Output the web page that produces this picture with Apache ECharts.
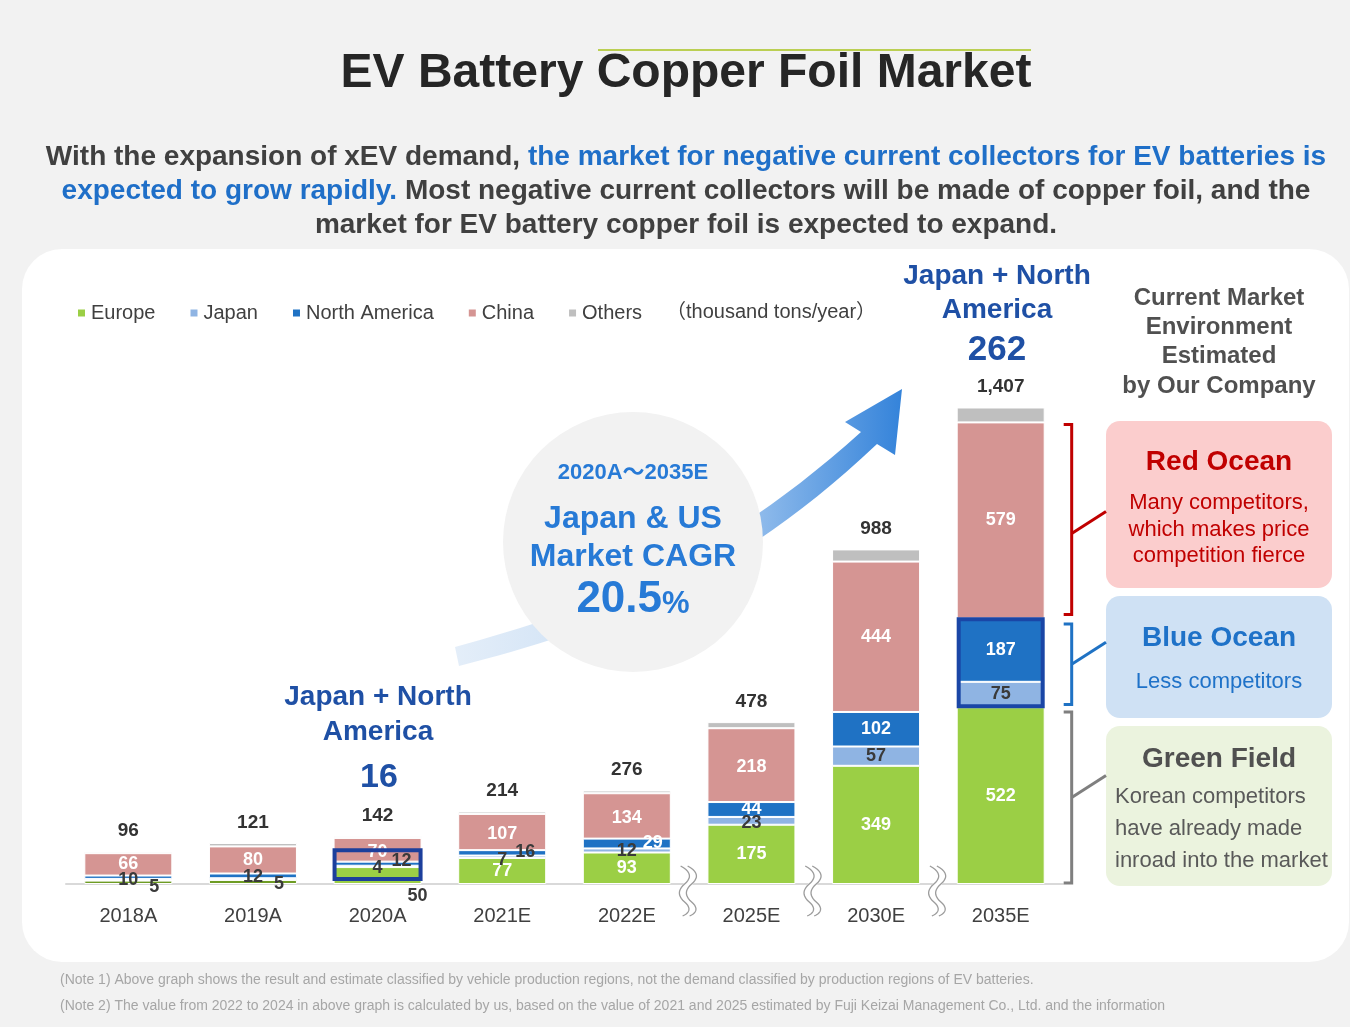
<!DOCTYPE html>
<html>
<head>
<meta charset="utf-8">
<script src="https://cdn.jsdelivr.net/npm/echarts@6/dist/echarts.min.js"></script>
<style>
html,body{margin:0;padding:0;background:#F2F2F2;}
#main{width:1350px;height:1027px;}
</style>
</head>
<body>
<div id="main"></div>
<script>
// ---------- data ----------
const categories = ['2018A','2019A','2020A','2021E','2022E','2025E','2030E','2035E'];
const europe       = [10, 12, 50, 77, 93, 175, 349, 522];
const japan        = [5, 5, 4, 7, 12, 23, 57, 75];
const northAmerica = [10, 14, 12, 16, 29, 44, 102, 187];
const china        = [66, 80, 70, 107, 134, 218, 444, 579];
const others       = [5, 10, 6, 7, 8, 18, 36, 44];
const totals       = [96, 121, 142, 214, 276, 478, 988, 1407];
const jpNaStart = 16, jpNaEnd = 262, cagr = '20.5';

// ---------- styles ----------
const FONT = "'Liberation Sans', Arial, 'Noto Sans CJK JP', sans-serif";
const DARK = '#3a3a3a';
const colors = {europe:'#9BCF45', europeOld:'#6E9C24', japan:'#8FB4E3', na:'#1F72C4', china:'#D59593', others:'#BFBFBF'};

// per-item label tweaks (index -> settings)
const tweaks = {
  europe: {0:{offset:[0,-2],color:DARK},1:{offset:[0,-5],color:DARK},2:{offset:[40,20],color:DARK}},
  japan:  {0:{offset:[26,7]},1:{offset:[26,5]},2:{offset:[0,2]},3:{offset:[0,3]},4:{offset:[0,1]},5:{offset:[0,2]}},
  na:     {0:{show:false},1:{show:false},2:{offset:[24,-3],color:DARK},3:{offset:[23,-1],color:DARK},4:{offset:[26,0]}},
  china:  {2:{offset:[0,2]},3:{offset:[0,2]},4:{offset:[0,2]},5:{offset:[0,2]}}
};

function build(values, key){
  return values.map((v,i)=>{
    const item = {value:v};
    const t = (tweaks[key]||{})[i];
    if (t) item.label = Object.assign({}, t);
    if (key==='europe' && i<2) item.itemStyle = {color: colors.europeOld};
    return item;
  });
}
function series(name, key, values, color, labelColor){
  return {
    name, type:'bar', stack:'total', barWidth:88, z:5,
    itemStyle:{color, borderColor:'#fff', borderWidth:1},
    label:{show:true, position:'inside', color:labelColor, fontFamily:FONT, fontWeight:'bold', fontSize:18},
    data: build(values, key)
  };
}

const chart = echarts.init(document.getElementById('main'));
chart.setOption({
  backgroundColor:'#F2F2F2',
  animation:false,
  grid:{left:66, right:287, top:376, bottom:143},
  legend:{
    left:76, top:303, padding:0, itemWidth:9, itemHeight:9, itemGap:33, icon:'rect',
    textStyle:{fontFamily:FONT, fontSize:20, color:'#404040'},
    data:['Europe','Japan','North America','China','Others']
  },
  xAxis:{
    type:'category', data:categories,
    axisLine:{lineStyle:{color:'#D9D9D9', width:2}},
    axisTick:{show:false},
    axisLabel:{fontFamily:FONT, fontSize:20, color:'#404040', margin:22}
  },
  yAxis:{type:'value', min:0, max:1500, show:false, splitLine:{show:false}},
  series:[
    series('Europe','europe',europe,colors.europe,'#fff'),
    series('Japan','japan',japan,colors.japan,DARK),
    series('North America','na',northAmerica,colors.na,'#fff'),
    series('China','china',china,colors.china,'#fff'),
    {
      name:'Others', type:'bar', stack:'total', barWidth:88, z:5,
      itemStyle:{color:colors.others, borderColor:'#fff', borderWidth:1},
      label:{show:true, position:'top', distance:11, color:'#333', fontFamily:FONT, fontWeight:'bold', fontSize:19,
        formatter:p=>totals[p.dataIndex].toLocaleString('en-US')},
      data:others
    }
  ]
});

// ---------- annotations ----------
const px = (i,v)=>chart.convertToPixel({gridIndex:0},[i,v]);
const g = [];
function text(x,y,t,size,color,opts){
  opts = opts || {};
  g.push({type:'text', z:30, style:{x, y, text:t, fontFamily:FONT, fontSize:size, fill:color,
    fontWeight:(opts.bold===false)?'normal':'bold', align:opts.align||'center', verticalAlign:'middle'}});
}
// sample a cubic bezier into points
function cubic(p0,p1,p2,p3,n){
  const pts=[];
  for(let k=0;k<=n;k++){
    const t=k/n, u=1-t;
    pts.push([u*u*u*p0[0]+3*u*u*t*p1[0]+3*u*t*t*p2[0]+t*t*t*p3[0],
              u*u*u*p0[1]+3*u*u*t*p1[1]+3*u*t*t*p2[1]+t*t*t*p3[1]]);
  }
  return pts;
}
// white panel
g.push({type:'rect', z:-5, shape:{x:22,y:249,width:1327,height:713,r:40}, style:{fill:'#fff'}});
// title
text(686,74,'EV Battery Copper Foil Market',48,'#262626');
g.push({type:'line', z:30, shape:{x1:598,y1:50,x2:1031,y2:50}, style:{stroke:'#A8C31E', lineWidth:1.5}});
// subtitle
g.push({type:'text', z:30, style:{x:686, y:191, align:'center', verticalAlign:'middle', fontFamily:FONT,
  text:'{g|With the expansion of xEV demand, }{b|the market for negative current collectors for EV batteries is}\n{b|expected to grow rapidly.}{g| Most negative current collectors will be made of copper foil, and the}\n{g|market for EV battery copper foil is expected to expand.}',
  rich:{g:{fontFamily:FONT,fontSize:28,fontWeight:'bold',fill:'#404040',lineHeight:34},
        b:{fontFamily:FONT,fontSize:28,fontWeight:'bold',fill:'#1F6FC8',lineHeight:34}}}});
// unit
text(666,312,'（thousand tons/year）',20,'#404040',{bold:false,align:'left'});

// arrow
const upper = cubic([455,647],[580,612],[705,572],[861,432],30);
const lower = cubic([877,444],[725,588],[590,632],[459,666],30);
const arrowPts = upper.concat([[845,422],[902,389],[895,455]], lower);
g.push({type:'polygon', z:8, shape:{points:arrowPts},
  style:{fill:{type:'linear', x:0, y:0, x2:1, y2:0, colorStops:[{offset:0,color:'#E4EEF9'},{offset:0.5,color:'#C3DAF3'},{offset:0.7,color:'#89B7EA'},{offset:1,color:'#3483DA'}]}}});
// bubble
g.push({type:'circle', z:9, shape:{cx:633,cy:542,r:130}, style:{fill:'#F2F2F2'}});
const BB='#277AD6';
text(633,473,'2020A～2035E',22,BB);
text(633,519,'Japan & US',32,BB);
text(633,557,'Market CAGR',32,BB);
g.push({type:'text', z:30, style:{x:633,y:600,align:'center',verticalAlign:'middle',text:'{n|'+cagr+'}{p|%}',
  rich:{n:{fontFamily:FONT,fontSize:44,fontWeight:'bold',fill:BB},p:{fontFamily:FONT,fontSize:31,fontWeight:'bold',fill:BB,padding:[8,0,0,0]}}}});

// Japan + North America callouts
const NB='#1F50A5';
text(378,697,'Japan + North',28,NB);
text(378,732,'America',28,NB);
text(379,778,String(jpNaStart),34,NB);
text(997,276,'Japan + North',28,NB);
text(997,310,'America',28,NB);
text(997,350,String(jpNaEnd),35,NB);

// Current market environment
['Current Market','Environment','Estimated','by Our Company'].forEach((t,i)=>text(1219,298+i*29.3,t,24,'#505050'));

// boxes
g.push({type:'rect', z:10, shape:{x:1106,y:421,width:226,height:167,r:14}, style:{fill:'#FBCDCD'}});
text(1219,462,'Red Ocean',28,'#C00000');
['Many competitors,','which makes price','competition fierce'].forEach((t,i)=>text(1219,503+i*26.5,t,22,'#C00000',{bold:false}));
g.push({type:'rect', z:10, shape:{x:1106,y:596,width:226,height:122,r:14}, style:{fill:'#CFE1F4'}});
text(1219,638,'Blue Ocean',28,'#1F72C8');
text(1219,682,'Less competitors',22,'#1F72C8',{bold:false});
g.push({type:'rect', z:10, shape:{x:1106,y:726,width:226,height:160,r:14}, style:{fill:'#EBF3DE'}});
text(1219,759,'Green Field',28,'#505050');
['Korean competitors','have already made','inroad into the market'].forEach((t,i)=>text(1115,797+i*32,t,22,'#595959',{bold:false,align:'left'}));

// brackets (from 2035E data)
const last = categories.length-1;
const bx = px(last,0)[0] + 71;
function bracket(v0,v1,color,tipY){
  const y0 = px(last,v1)[1], y1 = px(last,v0)[1], ym = (y0+y1)/2 + (tipY||0);
  g.push({type:'polyline', z:20, shape:{points:[[bx-8,y0],[bx,y0],[bx,y1],[bx-8,y1]]}, style:{stroke:color,lineWidth:3,fill:null}});
  g.push({type:'line', z:20, shape:{x1:bx,y1:ym,x2:1106,y2:ym-22}, style:{stroke:color,lineWidth:3}});
}
const eu = europe[last], ejn = europe[last]+japan[last]+northAmerica[last], ejnc = ejn+china[last];
bracket(ejn+12, ejnc-6, '#C00000', 14);
bracket(eu+8, ejn-16, '#1F72C4', 0);
bracket(3, eu-14, '#7F7F7F', 0);

// highlight boxes
function hbox(i,v0,v1,half,color){
  const c = px(i,0)[0], y0 = px(i,v1)[1], y1 = px(i,v0)[1];
  g.push({type:'rect', z:25, shape:{x:c-half,y:y0,width:half*2,height:y1-y0}, style:{fill:null,stroke:color,lineWidth:4}});
}
hbox(2, 15, 100, 43, '#1C3F9C');
hbox(last, eu+3, ejn-2, 42, '#1A46A6');

// axis break squiggles
function wave(cx,y0){
  return cubic([cx-5,y0],[cx+6,y0+6],[cx+6,y0+12],[cx-1,y0+18],10)
    .concat(cubic([cx-1,y0+18],[cx-8,y0+24],[cx-8,y0+30],[cx-1,y0+36],10).slice(1))
    .concat(cubic([cx-1,y0+36],[cx+6,y0+42],[cx+4,y0+47],[cx-3,y0+50],10).slice(1));
}
function squiggle(cx){
  const y0 = 866;
  g.push({type:'polyline', z:26, shape:{points:wave(cx,y0)}, style:{stroke:'#fff', lineWidth:7, fill:null}});
  g.push({type:'polyline', z:27, shape:{points:wave(cx-3.5,y0)}, style:{stroke:'#9C9C9C', lineWidth:1.3, fill:null}});
  g.push({type:'polyline', z:27, shape:{points:wave(cx+3.5,y0)}, style:{stroke:'#9C9C9C', lineWidth:1.3, fill:null}});
}
[4,5,6].forEach(i=>squiggle((px(i,0)[0]+px(i+1,0)[0])/2));

// notes
text(60,980,'(Note 1) Above graph shows the result and estimate classified by vehicle production regions, not the demand classified by production regions of EV batteries.',14,'#A6A6A6',{bold:false,align:'left'});
text(60,1006,'(Note 2) The value from 2022 to 2024 in above graph is calculated by us, based on the value of 2021 and 2025 estimated by Fuji Keizai Management Co., Ltd. and the information',14,'#A6A6A6',{bold:false,align:'left'});

chart.setOption({graphic:{elements:g}});
</script>
</body>
</html>
